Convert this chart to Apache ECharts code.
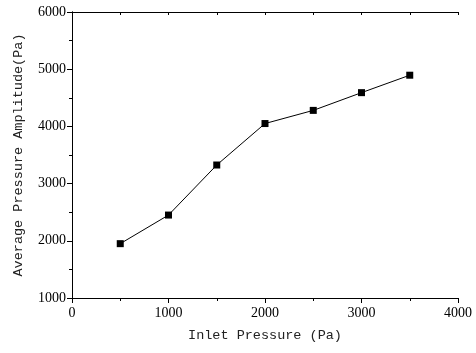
<!DOCTYPE html>
<html>
<head>
<meta charset="utf-8">
<script src="https://cdn.jsdelivr.net/npm/echarts@6/dist/echarts.min.js"></script>
<style>
html, body { margin: 0; padding: 0; background: #fff; }
#chart { width: 476px; height: 353px; }
</style>
</head>
<body>
<div id="chart"></div>
<script>
// inlet pressure (Pa)
const inletPressure = [500, 1000, 1500, 2000, 2500, 3000, 3500];
// average pressure amplitude (Pa)
const amplitude = [1950, 2450, 3325, 4050, 4280, 4590, 4895];

const xTicks = { min: 0, max: 4000, interval: 1000 };
const yTicks = { min: 1000, max: 6000, interval: 1000 };

const labelFont = { fontFamily: 'Liberation Serif', fontSize: 14, color: '#000', formatter: (v) => String(v) };
const titleFont = { fontFamily: 'Liberation Mono', fontSize: 13.5, color: '#222' };
const line = { lineStyle: { color: '#000', width: 1 } };

const chart = echarts.init(document.getElementById('chart'));
chart.setOption({
	animation: false,
	grid: { left: 72, right: 18, top: 12, bottom: 55, containLabel: false, outerBoundsMode: 'none' },
	xAxis: [
		{
			type: 'value',
			min: xTicks.min,
			max: xTicks.max,
			interval: xTicks.interval,
			name: 'Inlet Pressure (Pa)',
			nameLocation: 'middle',
			nameGap: 30,
			nameTextStyle: titleFont,
			axisLine: line,
			axisTick: { inside: false, length: 5, lineStyle: { color: '#000' } },
			minorTick: { show: true, splitNumber: 2, length: 3, lineStyle: { color: '#000' } },
			axisLabel: Object.assign({ margin: 8 }, labelFont),
			splitLine: { show: false },
		},
		{
			type: 'value',
			position: 'top',
			min: xTicks.min,
			max: xTicks.max,
			interval: xTicks.interval,
			axisLine: line,
			axisTick: { inside: true, length: 3, lineStyle: { color: '#000' } },
			minorTick: { show: true, splitNumber: 2, length: 3, lineStyle: { color: '#000' } },
			axisLabel: { show: false },
			splitLine: { show: false },
		},
	],
	yAxis: [
		{
			type: 'value',
			min: yTicks.min,
			max: yTicks.max,
			interval: yTicks.interval,
			name: 'Average Pressure Amplitude(Pa)',
			nameLocation: 'middle',
			nameGap: 47,
			nameTextStyle: titleFont,
			axisLine: { show: true, lineStyle: { color: '#000', width: 1 } },
			axisTick: { show: true, inside: false, length: 5, lineStyle: { color: '#000' } },
			minorTick: { show: true, splitNumber: 2, length: 3, lineStyle: { color: '#000' } },
			axisLabel: Object.assign({ margin: 6 }, labelFont),
			splitLine: { show: false },
		},
		{
			type: 'value',
			position: 'right',
			min: yTicks.min,
			max: yTicks.max,
			interval: yTicks.interval,
			axisLine: { show: true, lineStyle: { color: '#000', width: 1 } },
			axisTick: { show: true, inside: true, length: 3, lineStyle: { color: '#000' } },
			minorTick: { show: true, splitNumber: 2, length: 3, lineStyle: { color: '#000' } },
			axisLabel: { show: false },
			splitLine: { show: false },
		},
	],
	series: [
		{
			type: 'line',
			data: inletPressure.map((x, i) => [x, amplitude[i]]),
			symbol: 'rect',
			symbolSize: 7,
			itemStyle: { color: '#000' },
			lineStyle: { color: '#000', width: 1 },
		},
	],
});
</script>
</body>
</html>
